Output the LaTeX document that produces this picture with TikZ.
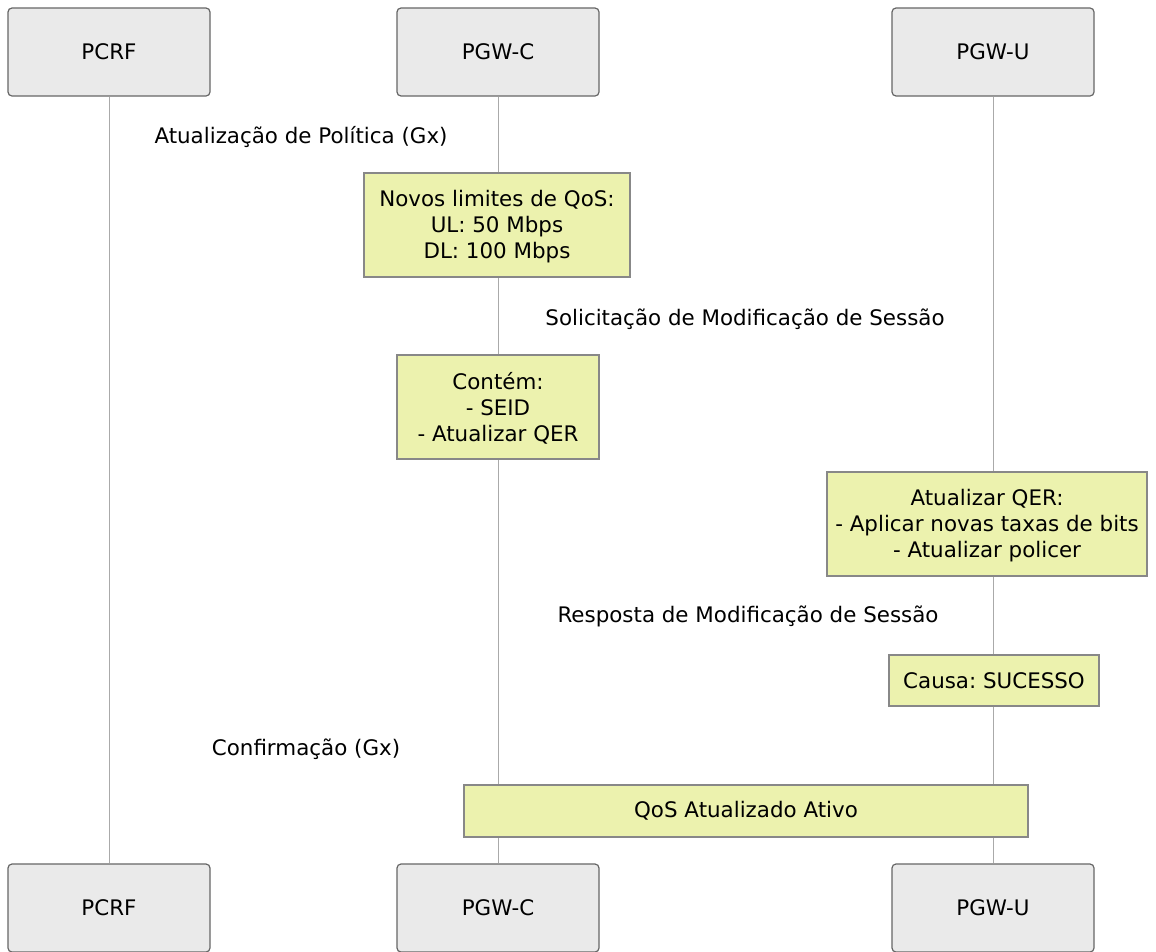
\documentclass[tikz,border=0pt]{standalone}
\usepackage{fontspec}
\setmainfont{DejaVu Sans}
\definecolor{actfill}{RGB}{234,234,234}
\definecolor{actdraw}{RGB}{102,102,102}
\definecolor{notefill}{RGB}{236,242,174}
\definecolor{notedraw}{RGB}{136,136,136}
\definecolor{lifec}{RGB}{170,170,170}
\newcommand{\toppad}{\rule{0pt}{19pt}}
\tikzset{
  actor/.style={draw=actdraw, fill=actfill, line width=1.2pt, rounded corners=4pt,
    minimum width=202pt, minimum height=88pt, inner sep=0pt, font=\fontsize{21.4}{26}\selectfont},
  note/.style={draw=notedraw, fill=notefill, line width=1.2pt, inner sep=0pt,
    align=center, font=\fontsize{21.4}{26}\selectfont},
  msg/.style={inner sep=0pt, font=\fontsize{21.4}{26}\selectfont},
  life/.style={draw=lifec, line width=1pt}
}
\frenchspacing
\begin{document}
\frenchspacing
\begin{tikzpicture}[x=1pt,y=-1pt]
\useasboundingbox (0,0) rectangle (1156,951);
\node[actor] (pcrf) at (109,52) {PCRF};
\node[actor] (pgwc) at (498,52) {PGW-C};
\node[actor] (pgwu) at (993,52) {PGW-U};
\node[actor] (pcrfb) at (109,908) {PCRF};
\node[actor] (pgwcb) at (498,908) {PGW-C};
\node[actor] (pgwub) at (993,908) {PGW-U};
\draw[life] (pcrf) -- (pcrfb);
\draw[life] (pgwc) -- (pgwcb);
\draw[life] (pgwu) -- (pgwub);
\node[msg] (m1) at (301,137) {Atualização de Política (Gx)};
\node[note, minimum width=266pt, minimum height=104pt] (n1) at (497,225) {\toppad Novos limites de QoS:\\UL: 50 Mbps\\DL: 100 Mbps};
\node[msg] (m2) at (745,319) {Solicitação de Modificação de Sessão};
\node[note, minimum width=202pt, minimum height=104pt] (n2) at (498,407) {\toppad Contém:\\- SEID\\- Atualizar QER};
\node[note, minimum width=320pt, minimum height=104pt] (n3) at (987,524) {\toppad Atualizar QER:\\- Aplicar novas taxas de bits\\- Atualizar policer};
\node[msg] (m3) at (748,616) {Resposta de Modificação de Sessão};
\node[note, minimum width=210pt, minimum height=51pt] (n4) at (994,680.5) {Causa: SUCESSO};
\node[msg] (m4) at (306,749) {Confirmação (Gx)};
\node[note, minimum width=564pt, minimum height=52pt] (n5) at (746,811) {QoS Atualizado Ativo};
\end{tikzpicture}
\end{document}
